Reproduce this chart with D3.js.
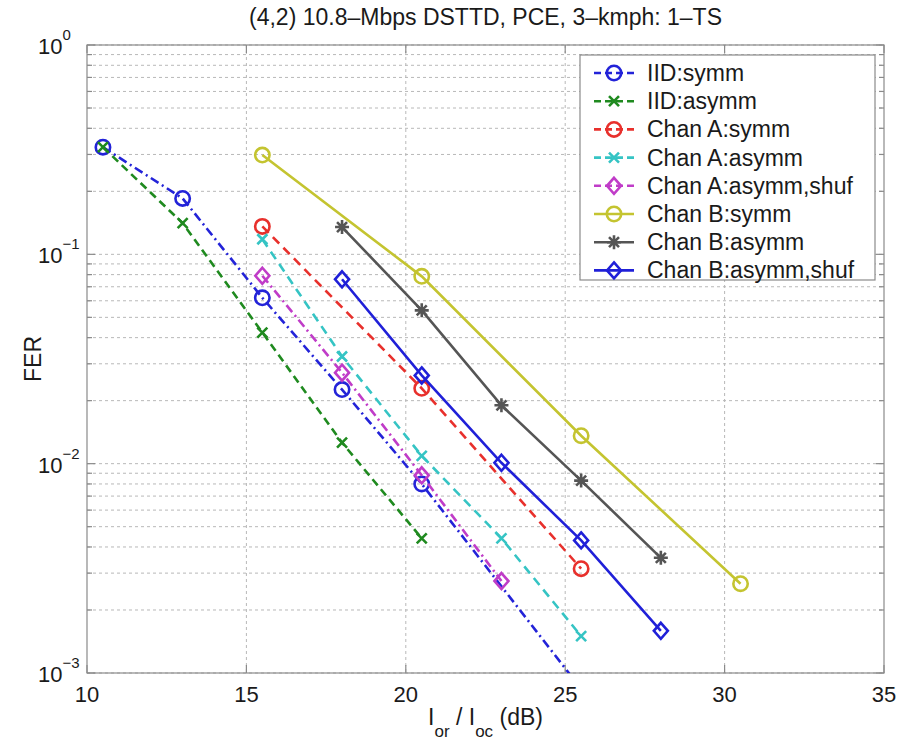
<!DOCTYPE html>
<html>
<head>
<meta charset="utf-8">
<script src="https://cdn.jsdelivr.net/npm/d3@7"></script>
<style>
  body { margin: 0; background: #fff; }
  text { font-family: "Liberation Sans", Arial, sans-serif; fill: #1a1a1a; }
</style>
</head>
<body>
<svg id="svg" width="901" height="742"></svg>
<script>
const svg = d3.select("#svg");

// Ior/Ioc (dB) sample points
const snrIIDSymm = [10.5, 13, 15.5, 18, 20.5, 25.5];
const snrIIDAsymm = [10.5, 13, 15.5, 18, 20.5];
const snrChanASymm = [15.5, 20.5, 25.5];
const snrChanAAsymm = [15.5, 18, 20.5, 23, 25.5];
const snrChanAShuf = [15.5, 18, 20.5, 23];
const snrChanBSymm = [15.5, 20.5, 25.5, 30.5];
const snrChanBAsymm = [18, 20.5, 23, 25.5, 28];

// FER values
const ferIIDSymm = [0.325, 0.185, 0.062, 0.0226, 0.008, 0.00084];
const ferIIDAsymm = [0.325, 0.141, 0.0423, 0.0126, 0.0044];
const ferChanASymm = [0.136, 0.0229, 0.00315];
const ferChanAAsymm = [0.118, 0.0325, 0.0109, 0.0044, 0.0015];
const ferChanAShuf = [0.079, 0.0272, 0.0088, 0.00275];
const ferChanBSymm = [0.298, 0.0785, 0.0136, 0.00267];
const ferChanBAsymm = [0.135, 0.054, 0.019, 0.0083, 0.00355];
const ferChanBShuf = [0.076, 0.0264, 0.0101, 0.0043, 0.00159];

const seriesNames = ["IID:symm", "IID:asymm", "Chan A:symm", "Chan A:asymm",
  "Chan A:asymm,shuf", "Chan B:symm", "Chan B:asymm", "Chan B:asymm,shuf"];

const xTicks = [10, 15, 20, 25, 30, 35];
const yDecades = [1, 0.1, 0.01, 0.001];
const yDecadeExp = ["0", "\u22121", "\u22122", "\u22123"];

const title = "(4,2) 10.8\u2013Mbps DSTTD, PCE, 3\u2013kmph: 1\u2013TS";

const series = [
  { xs: snrIIDSymm, ys: ferIIDSymm, color: "#2323d8", dash: "9,4,2,4", marker: "circle" },
  { xs: snrIIDAsymm, ys: ferIIDAsymm, color: "#1f8a1f", dash: "8,5", marker: "x" },
  { xs: snrChanASymm, ys: ferChanASymm, color: "#e8302c", dash: "9,6", marker: "circle" },
  { xs: snrChanAAsymm, ys: ferChanAAsymm, color: "#35c4c4", dash: "9,6", marker: "x" },
  { xs: snrChanAShuf, ys: ferChanAShuf, color: "#c03cc8", dash: "9,4,2,4", marker: "diamond" },
  { xs: snrChanBSymm, ys: ferChanBSymm, color: "#c4c430", dash: null, marker: "circle" },
  { xs: snrChanBAsymm, ys: ferChanBAsymm, color: "#555555", dash: null, marker: "star" },
  { xs: snrChanBAsymm, ys: ferChanBShuf, color: "#2020d8", dash: null, marker: "diamond" },
].map((s, i) => ({ ...s, name: seriesNames[i], pts: s.xs.map((x, j) => [x, s.ys[j]]) }));

const plotLeft = 87, plotRight = 884, plotTop = 45, plotBottom = 673;

const x = d3.scaleLinear().domain([10, 35]).range([plotLeft, plotRight]);
const y = d3.scaleLog().domain([1e-3, 1]).range([plotBottom, plotTop]);

svg.append("defs").append("clipPath").attr("id", "plotclip")
  .append("rect").attr("x", plotLeft).attr("y", plotTop)
  .attr("width", plotRight - plotLeft).attr("height", plotBottom - plotTop);

// grid
const grid = svg.append("g");
const yAll = y.ticks();
grid.selectAll("line.h").data(yAll).join("line")
  .attr("x1", plotLeft).attr("x2", plotRight)
  .attr("y1", d => y(d)).attr("y2", d => y(d))
  .attr("stroke", "#b8b8b8").attr("stroke-width", 1)
  .attr("stroke-dasharray", "3,3");
grid.selectAll("line.v").data(xTicks.slice(1, -1)).join("line")
  .attr("x1", d => x(d)).attr("x2", d => x(d))
  .attr("y1", plotTop).attr("y2", plotBottom)
  .attr("stroke", "#b8b8b8").attr("stroke-width", 1)
  .attr("stroke-dasharray", "3,3");

// frame and ticks
const frame = svg.append("g").attr("stroke", "#8a8a8a").attr("stroke-width", 1.2);
frame.append("rect").attr("x", plotLeft).attr("y", plotTop)
  .attr("width", plotRight - plotLeft).attr("height", plotBottom - plotTop).attr("fill", "none");
xTicks.forEach(t => {
  frame.append("line").attr("x1", x(t)).attr("x2", x(t)).attr("y1", plotBottom).attr("y2", plotBottom - 8);
  frame.append("line").attr("x1", x(t)).attr("x2", x(t)).attr("y1", plotTop).attr("y2", plotTop + 8);
});
yAll.forEach(t => {
  const major = Math.abs(Math.log10(t) - Math.round(Math.log10(t))) < 1e-9;
  const len = major ? 8 : 5;
  frame.append("line").attr("x1", plotLeft).attr("x2", plotLeft + len).attr("y1", y(t)).attr("y2", y(t));
  frame.append("line").attr("x1", plotRight).attr("x2", plotRight - len).attr("y1", y(t)).attr("y2", y(t));
});

// tick labels
svg.append("g").selectAll("text").data(xTicks).join("text")
  .attr("x", d => x(d)).attr("y", 702)
  .attr("text-anchor", "middle").style("font-size", "22px")
  .text(d => d);

const yl = svg.append("g").selectAll("text").data(yDecades).join("text")
  .attr("x", 38).attr("y", d => y(d) + 9).style("font-size", "22px");
yl.append("tspan").text("10");
yl.append("tspan").attr("dy", -14).style("font-size", "15px").text((d, i) => yDecadeExp[i]);

// title and axis labels
svg.append("text").attr("x", (plotLeft + plotRight) / 2).attr("y", 25)
  .attr("text-anchor", "middle").style("font-size", "23px").text(title);

const xl = svg.append("text").attr("x", (plotLeft + plotRight) / 2).attr("y", 725)
  .attr("text-anchor", "middle").style("font-size", "23px");
xl.append("tspan").text("I");
xl.append("tspan").attr("dy", 12).style("font-size", "17px").text("or");
xl.append("tspan").attr("dy", -12).text(" / I");
xl.append("tspan").attr("dy", 12).style("font-size", "17px").text("oc");
xl.append("tspan").attr("dy", -12).text(" (dB)");

svg.append("text").attr("transform", `translate(41,${(plotTop + plotBottom) / 2}) rotate(-90)`)
  .attr("text-anchor", "middle").style("font-size", "23px").text("FER");

// markers
function drawMarker(g, type, cx, cy, color) {
  const m = g.append("g").attr("transform", `translate(${cx},${cy})`)
    .attr("stroke", color).attr("stroke-width", 2.6).attr("fill", "none");
  if (type === "circle") {
    m.append("circle").attr("r", 7.2);
  } else if (type === "diamond") {
    m.append("path").attr("d", "M0,-8L7,0L0,8L-7,0Z");
  } else if (type === "x") {
    m.append("path").attr("d", "M-5,-5L5,5M-5,5L5,-5");
  } else if (type === "star") {
    m.append("path").attr("d", "M-5,-5L5,5M-5,5L5,-5M-7,0L7,0M0,-7L0,7");
  }
}

const line = d3.line().x(d => x(d[0])).y(d => y(d[1]));

const plot = svg.append("g").attr("clip-path", "url(#plotclip)");
series.forEach(s => {
  plot.append("path").attr("d", line(s.pts))
    .attr("fill", "none").attr("stroke", s.color).attr("stroke-width", 2.6)
    .attr("stroke-dasharray", s.dash);
  s.pts.forEach(p => drawMarker(plot, s.marker, x(p[0]), y(p[1]), s.color));
});

// legend
const lg = svg.append("g");
lg.append("rect").attr("x", 580).attr("y", 55).attr("width", 295).attr("height", 225)
  .attr("fill", "#fff").attr("stroke", "#8a8a8a").attr("stroke-width", 1.2);
series.forEach((s, i) => {
  const cy = 73 + i * 28.2;
  lg.append("line").attr("x1", 594).attr("x2", 634).attr("y1", cy).attr("y2", cy)
    .attr("stroke", s.color).attr("stroke-width", 2.6).attr("stroke-dasharray", s.dash ? "7,4" : null);
  drawMarker(lg, s.marker, 614, cy, s.color);
  lg.append("text").attr("x", 647).attr("y", cy + 8).style("font-size", "23px").text(s.name);
});
</script>
</body>
</html>
